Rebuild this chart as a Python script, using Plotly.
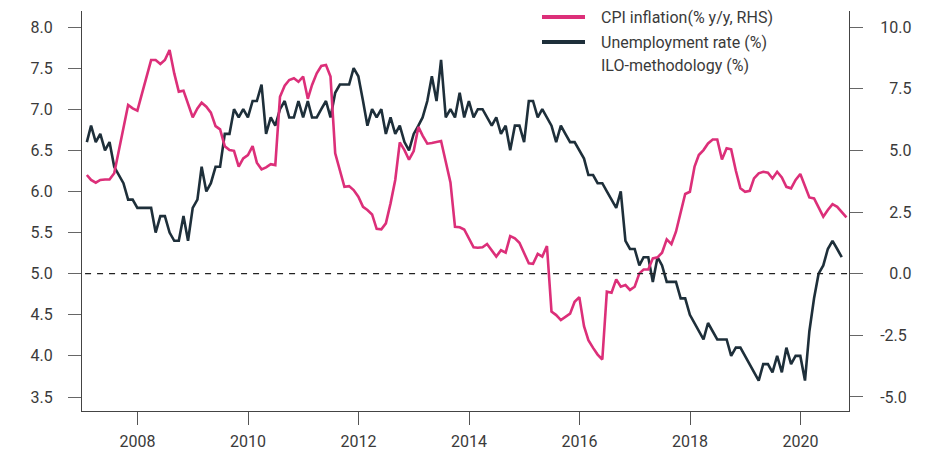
import pandas as pd
import plotly.graph_objects as go

# Monthly data, Jan 2007 onwards (month-end dates)
unemployment = [
    6.6, 6.8, 6.6, 6.7, 6.5, 6.6, 6.3, 6.2, 6.1, 5.9, 5.9, 5.8,
    5.8, 5.8, 5.8, 5.5, 5.7, 5.7, 5.5, 5.4, 5.4, 5.7, 5.4, 5.8,
    5.9, 6.3, 6.0, 6.1, 6.3, 6.3, 6.7, 6.7, 7.0, 6.9, 7.0, 6.9,
    7.1, 7.1, 7.3, 6.7, 6.9, 6.8, 7.0, 7.1, 6.9, 6.9, 7.1, 6.9,
    7.1, 6.9, 6.9, 7.0, 7.1, 6.9, 7.2, 7.3, 7.3, 7.3, 7.5, 7.4,
    7.1, 6.8, 7.0, 6.9, 7.0, 6.7, 6.9, 6.7, 6.8, 6.6, 6.5, 6.7,
    6.8, 6.9, 7.1, 7.4, 7.1, 7.6, 6.9, 7.0, 6.9, 7.2, 6.9, 7.1,
    6.9, 7.0, 7.0, 6.9, 6.8, 6.9, 6.7, 6.8, 6.5, 6.8, 6.8, 6.6,
    7.1, 7.1, 6.9, 7.0, 6.9, 6.8, 6.6, 6.8, 6.7, 6.6, 6.6, 6.5,
    6.4, 6.2, 6.2, 6.1, 6.1, 6.0, 5.9, 5.8, 6.0, 5.4, 5.3, 5.3,
    5.1, 5.2, 5.2, 4.9, 5.2, 5.1, 4.9, 4.9, 4.9, 4.7, 4.7, 4.5,
    4.4, 4.3, 4.2, 4.4, 4.3, 4.2, 4.2, 4.2, 4.0, 4.1, 4.1, 4.0,
    3.9, 3.8, 3.7, 3.9, 3.9, 3.8, 4.0, 3.8, 4.1, 3.9, 4.0, 4.0,
    3.7, 4.3, 4.7, 5.0, 5.1, 5.3, 5.4, 5.3, 5.2,
]

cpi = [
    4.00, 3.80, 3.69, 3.80, 3.82, 3.82, 4.07, 5.01, 6.03, 6.84, 6.70, 6.61,
    7.31, 7.99, 8.66, 8.66, 8.50, 8.66, 9.07, 8.12, 7.38, 7.42, 6.84, 6.34,
    6.70, 6.93, 6.77, 6.53, 5.98, 5.85, 5.17, 5.01, 4.98, 4.34, 4.67, 4.81,
    5.17, 4.50, 4.23, 4.31, 4.44, 4.40, 7.17, 7.62, 7.85, 7.92, 7.78, 7.99,
    7.09, 7.65, 8.12, 8.42, 8.46, 7.99, 4.88, 4.24, 3.52, 3.55, 3.39, 3.12,
    2.71, 2.58, 2.40, 1.82, 1.80, 2.04, 2.85, 3.80, 5.32, 5.01, 4.62, 4.97,
    5.95, 5.60, 5.27, 5.30, 5.34, 5.38, 4.54, 3.70, 1.90, 1.88, 1.79, 1.45,
    1.07, 1.05, 1.07, 1.20, 0.93, 0.69, 0.95, 0.85, 1.52, 1.43, 1.25, 0.82,
    0.42, 0.40, 0.80, 0.69, 1.12, -1.54, -1.68, -1.88, -1.75, -1.62, -1.14, -0.95,
    -2.13, -2.70, -3.01, -3.28, -3.48, -0.73, -0.77, -0.23, -0.53, -0.46, -0.66, -0.53,
    0.01, 0.17, 0.17, 0.62, 0.66, 0.85, 1.39, 1.20, 1.70, 2.51, 3.23, 3.32,
    4.34, 4.81, 5.01, 5.28, 5.44, 5.44, 4.63, 5.08, 5.04, 4.17, 3.46, 3.32,
    3.36, 3.86, 4.07, 4.13, 4.09, 3.86, 4.13, 3.90, 3.52, 3.46, 3.80, 4.04,
    3.55, 3.09, 3.05, 2.69, 2.31, 2.58, 2.82, 2.71, 2.51, 2.28,
]

series_names = ["CPI inflation(% y/y, RHS)", "Unemployment rate (%)", "ILO-methodology (%)"]
x_tick_labels = ["2008", "2010", "2012", "2014", "2016", "2018", "2020"]
left_tick_vals = [3.5, 4.0, 4.5, 5.0, 5.5, 6.0, 6.5, 7.0, 7.5, 8.0]
right_tick_vals = [-5.0, -2.5, 0.0, 2.5, 5.0, 7.5, 10.0]
right_tick_text = ["-5.0", "-2.5", "\u20070.0", "\u20072.5", "\u20075.0", "\u20077.5", "10.0"]

dates_cpi = pd.date_range("2007-01-01", periods=len(cpi), freq="MS") + pd.offsets.MonthEnd(0)
dates_un = dates_cpi[: len(unemployment)]

PINK = "#DC2F79"
DARK = "#1E2F3A"
FONT = "Roboto"
TXT = "#3a3a3a"

# page offset of the figure (default body margin of the html page)
OFF = 8
# target plot area in page pixels
PLOT_L, PLOT_R, PLOT_T, PLOT_B = 82, 849, 11, 411
W, H = 931 - OFF, 451 - OFF


def px(xp):
    return (xp - PLOT_L) / (PLOT_R - PLOT_L)


def py(yp):
    return (PLOT_B - yp) / (PLOT_B - PLOT_T)


fig = go.Figure()
fig.add_trace(go.Scatter(
    x=dates_cpi, y=cpi, yaxis="y2", mode="lines",
    name=series_names[0], showlegend=False,
    line=dict(color=PINK, width=2.6),
))
fig.add_trace(go.Scatter(
    x=dates_un, y=unemployment, yaxis="y", mode="lines",
    name=series_names[1] + " " + series_names[2], showlegend=False,
    line=dict(color=DARK, width=2.6),
))

# zero line on the right axis (= 5.0 on the left axis)
fig.add_shape(type="line", xref="paper", x0=0.004, x1=1, yref="y2", y0=0.0, y1=0.0,
              line=dict(color="#222222", width=1.3, dash="6px,6px"))

# legend (drawn manually to match the original's key layout)
for color, yk in [(PINK, 17), (DARK, 42)]:
    fig.add_shape(type="line", xref="paper", yref="paper",
                  x0=px(542), x1=px(585), y0=py(yk), y1=py(yk),
                  line=dict(color=color, width=4))
for text, yk in zip(series_names, [17, 42, 65]):
    fig.add_annotation(xref="paper", yref="paper", x=px(599), y=py(yk),
                       text=text, showarrow=False, xanchor="left", yanchor="middle",
                       font=dict(family=FONT, size=16, color=TXT))

fig.update_layout(
    width=W, height=H,
    margin=dict(l=PLOT_L - OFF, r=W - (PLOT_R - OFF), t=PLOT_T - OFF,
                b=H - (PLOT_B - OFF), autoexpand=False),
    paper_bgcolor="white", plot_bgcolor="white",
    font=dict(family=FONT, size=16, color=TXT),
    showlegend=False,
    xaxis=dict(
        type="date",
        range=["2006-12-30", "2020-11-17"],
        tickvals=[f"{y}-01-01" for y in x_tick_labels],
        ticktext=x_tick_labels,
        ticks="outside", ticklen=13, tickwidth=1, tickcolor="#555555",
        ticklabelstandoff=3,
        showline=True, linecolor="#444444", linewidth=1,
        showgrid=False, zeroline=False, automargin=False,
        tickfont=dict(size=16),
    ),
    yaxis=dict(
        range=[3.3297, 8.1946],
        tickvals=left_tick_vals,
        tickformat=".1f",
        ticks="outside", ticklen=13, tickwidth=1, tickcolor="#666666",
        ticklabelstandoff=12,
        showline=True, linecolor="#444444", linewidth=1,
        showgrid=False, zeroline=False, automargin=False,
        tickfont=dict(size=16),
    ),
    yaxis2=dict(
        overlaying="y", side="right",
        range=[-5.568, 10.649],
        tickvals=right_tick_vals,
        ticktext=right_tick_text,
        ticks="outside", ticklen=13, tickwidth=1, tickcolor="#666666",
        ticklabelstandoff=14,
        showline=True, linecolor="#444444", linewidth=1,
        showgrid=False, zeroline=False, automargin=False,
        tickfont=dict(size=16),
    ),
)

fig.write_html("out.html")
